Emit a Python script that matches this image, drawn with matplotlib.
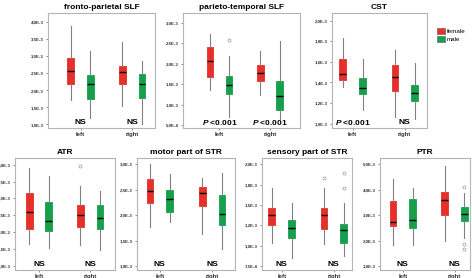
import math
import matplotlib
matplotlib.use("Agg")
import matplotlib.pyplot as plt
from matplotlib.patches import Patch

plt.rcParams['font.family'] = ['Liberation Sans', 'DejaVu Sans']
plt.rcParams['mathtext.fontset'] = 'custom'
plt.rcParams['mathtext.it'] = 'Liberation Sans:italic:bold'

# values in units of 1E-3, each box: [whisker low, q1, median, q3, whisker high]
# order in each list: left hemisphere, right hemisphere
groups = ["left", "right"]

fp_female = [[1.73, 2.19, 2.58, 2.94, 3.88], [1.53, 2.18, 2.55, 2.72, 3.43]]
fp_male = [[1.19, 1.75, 2.19, 2.45, 3.17], [1.01, 1.79, 2.19, 2.48, 2.87]]
fp_female_out = [[], []]
fp_male_out = [[], []]

pt_female = [[1.36, 1.67, 2.07, 2.40, 2.73], [1.24, 1.57, 1.77, 1.98, 2.32]]
pt_male = [[0.69, 1.26, 1.48, 1.70, 2.18], [0.65, 0.86, 1.22, 1.57, 2.57]]
pt_female_out = [[], []]
pt_male_out = [[2.59], []]

cst_female = [[1.36, 1.42, 1.48, 1.63, 1.83], [1.07, 1.32, 1.45, 1.57, 1.71]]
cst_male = [[1.13, 1.29, 1.35, 1.44, 1.63], [1.05, 1.22, 1.30, 1.38, 1.59]]
cst_female_out = [[], []]
cst_male_out = [[], []]

atr_female = [[1.64, 2.09, 2.61, 3.15, 3.90], [1.61, 2.14, 2.51, 2.81, 3.37]]
atr_male = [[1.52, 2.03, 2.32, 2.90, 3.67], [1.47, 2.08, 2.43, 2.80, 3.21]]
atr_female_out = [[], [3.97]]
atr_male_out = [[], []]

mstr_female = [[1.76, 2.24, 2.48, 2.71, 3.00], [1.64, 2.18, 2.44, 2.56, 2.73]]
mstr_male = [[1.86, 2.07, 2.31, 2.50, 2.80], [1.33, 1.81, 2.02, 2.40, 2.82]]
mstr_female_out = [[], []]
mstr_male_out = [[], []]

sstr_female = [[1.03, 1.25, 1.38, 1.46, 1.71], [1.02, 1.21, 1.38, 1.46, 1.71]]
sstr_male = [[0.85, 1.09, 1.22, 1.32, 1.52], [0.87, 1.03, 1.19, 1.26, 1.52]]
sstr_female_out = [[], [1.83]]
sstr_male_out = [[], [1.90, 1.71]]

ptr_female = [[1.84, 2.59, 2.73, 3.54, 4.42], [2.01, 2.99, 3.59, 3.89, 4.91]]
ptr_male = [[1.85, 2.49, 2.80, 3.65, 4.06], [2.12, 2.78, 3.04, 3.31, 3.86]]
ptr_female_out = [[], []]
ptr_male_out = [[], [4.12, 1.86, 1.67]]

fp_ticks = [1.0, 1.5, 2.0, 2.5, 3.0, 3.5, 4.0]
pt_ticks = [0.5, 1.0, 1.5, 2.0, 2.5, 3.0]
cst_ticks = [1.0, 1.2, 1.4, 1.6, 1.8, 2.0]
atr_ticks = [1.0, 1.5, 2.0, 2.5, 3.0, 3.5, 4.0]
mstr_ticks = [1.0, 1.5, 2.0, 2.5, 3.0]
sstr_ticks = [0.75, 1.0, 1.25, 1.5, 1.75, 2.0]
ptr_ticks = [1.0, 2.0, 3.0, 4.0, 5.0]

PSIG = "$\\it{P}$ <0.001"
fp_sig = ["NS", "NS"]
pt_sig = [PSIG, PSIG]
cst_sig = [PSIG, "NS"]
atr_sig = ["NS", "NS"]
mstr_sig = ["NS", "NS"]
sstr_sig = ["NS", "NS"]
ptr_sig = ["NS", "NS"]

FEMALE = "#e8302a"
MALE = "#16a04c"


def sci_label(v):
    real = v * 1e-3
    e = math.floor(math.log10(real))
    m = real / 10 ** e
    return f"{m:.1f}".replace(".", ",") + f"E{e}"


def stats(five, outs):
    lo, q1, med, q3, hi = five
    return dict(whislo=lo, q1=q1, med=med, q3=q3, whishi=hi, fliers=outs)


def panel(rect, title, fem, mal, fem_out, mal_out, ticks, ylim, xlim, sig):
    ax = fig.add_axes(rect)
    off = 0.19
    for i in range(len(groups)):
        for five, outs, col, dx in ((fem[i], fem_out[i], FEMALE, -off),
                                    (mal[i], mal_out[i], MALE, off)):
            ax.bxp([stats(five, outs)], positions=[i + 1 + dx], widths=0.13,
                   patch_artist=True, showcaps=False,
                   boxprops=dict(facecolor=col, edgecolor=col, linewidth=0.6),
                   medianprops=dict(color="black", linewidth=1.0),
                   whiskerprops=dict(color="#808080", linewidth=0.8),
                   flierprops=dict(marker="o", markersize=2.2, markerfacecolor="white",
                                   markeredgecolor="#999999", markeredgewidth=0.5))
        ax.text(i + 1, ylim[0] + (ylim[1] - ylim[0]) * 0.045, sig[i],
                ha="center", va="center", fontsize=6, fontweight="bold")
    ax.set_xlim(*xlim)
    ax.set_ylim(*ylim)
    ax.set_xticks([1, 2])
    ax.set_xticklabels(groups, fontsize=4.3, fontweight="bold")
    ax.set_yticks(ticks)
    ax.set_yticklabels([sci_label(t) for t in ticks], fontsize=3.2, fontweight="bold")
    ax.tick_params(axis="both", length=1.5, width=0.4, pad=1.5, colors="#333333")
    for s in ax.spines.values():
        s.set_color("#b5b5b5")
        s.set_linewidth(0.8)
    ax.set_title(title, fontsize=6, fontweight="bold", pad=2.5)
    return ax


fig = plt.figure(figsize=(4.72, 2.78), dpi=100)

top_b, top_h = 0.54, 0.414
bot_b, bot_h = 0.029, 0.403

panel([0.102, top_b, 0.227, top_h], "fronto-parietal SLF", fp_female, fp_male,
      fp_female_out, fp_male_out, fp_ticks, (0.9, 4.28), (0.37, 2.45), fp_sig)
panel([0.388, top_b, 0.248, top_h], "parieto-temporal SLF", pt_female, pt_male,
      pt_female_out, pt_male_out, pt_ticks, (0.43, 3.25), (0.28, 2.6), pt_sig)
panel([0.703, top_b, 0.201, top_h], "CST", cst_female, cst_male,
      cst_female_out, cst_male_out, cst_ticks, (0.96, 2.075), (0.6, 2.42), cst_sig)

panel([0.032, bot_b, 0.212, bot_h], "ATR", atr_female, atr_male,
      atr_female_out, atr_male_out, atr_ticks, (0.88, 4.2), (0.53, 2.49), atr_sig)
panel([0.290, bot_b, 0.208, bot_h], "motor part of STR", mstr_female, mstr_male,
      mstr_female_out, mstr_male_out, mstr_ticks, (0.93, 3.12), (0.56, 2.44), mstr_sig)
panel([0.555, bot_b, 0.191, bot_h], "sensory part of STR", sstr_female, sstr_male,
      sstr_female_out, sstr_male_out, sstr_ticks, (0.70, 2.08), (0.62, 2.35), sstr_sig)
panel([0.805, bot_b, 0.191, bot_h], "PTR", ptr_female, ptr_male,
      ptr_female_out, ptr_male_out, ptr_ticks, (0.86, 5.24), (0.56, 2.3), ptr_sig)

handles = [Patch(facecolor=FEMALE, edgecolor="#555555", linewidth=0.4, label="female"),
           Patch(facecolor=MALE, edgecolor="#555555", linewidth=0.4, label="male")]
fig.legend(handles=handles, loc="upper left", bbox_to_anchor=(0.92, 0.91),
           frameon=False, fontsize=4.5, handlelength=1.2, handleheight=1.1,
           handletextpad=0.3, labelspacing=0.2, borderpad=0)

fig.savefig("out.png", dpi=100)
